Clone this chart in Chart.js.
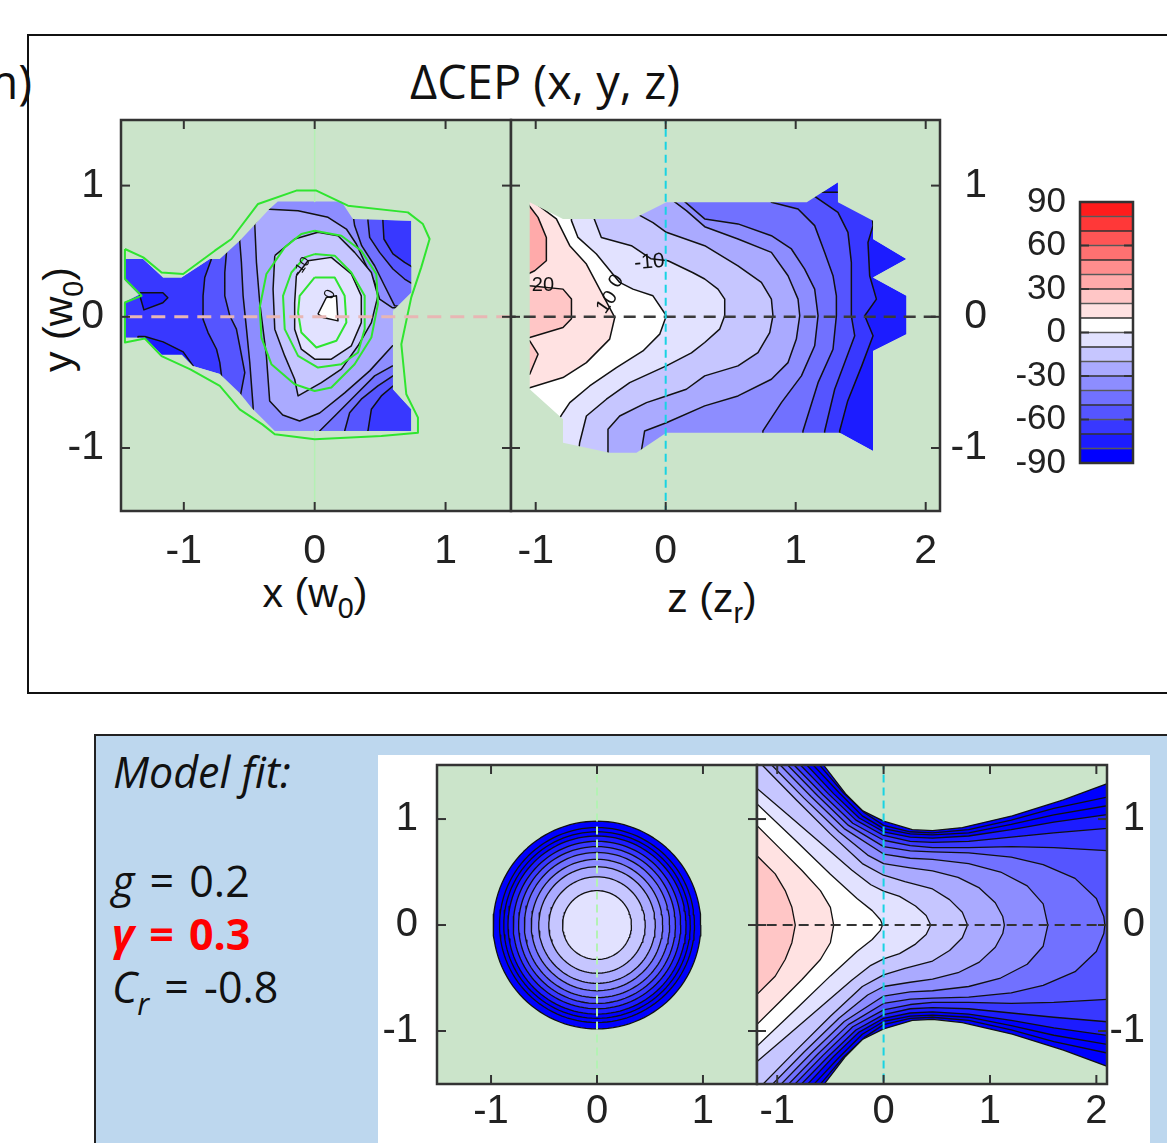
<!DOCTYPE html>
<html>
<head>
<meta charset="utf-8">
<script src="https://cdn.jsdelivr.net/npm/chart.js@4.4.1/dist/chart.umd.min.js"></script>
<style>
  html, body { margin: 0; padding: 0; background: #fff; }
  body { width: 1167px; height: 1143px; position: relative; overflow: hidden; font-family: 'Liberation Sans', Arial, sans-serif; }
  canvas { position: absolute; }
  .t { position: absolute; white-space: nowrap; line-height: normal; color: #111; }
  .ax { font: 41px 'Liberation Sans', Arial, sans-serif; }
  .eq { margin: 0 4px; }
  sub { font-size: 70%; vertical-align: -0.4em; line-height: 0; }
  #topbox { position: absolute; left: 27px; top: 34px; width: 1200px; height: 656px; border: 2px solid #111; }
  #botbox { position: absolute; left: 94px; top: 734px; width: 1200px; height: 500px; border: 2px solid #222; background: #bdd7ee; }
  #white { position: absolute; left: 378px; top: 755px; width: 772px; height: 400px; background: #fff; }
</style>
</head>
<body>
<div id="topbox"></div>
<div class="t" style="right:1135px; top:49px; font:47px 'Open Sans', sans-serif;">(m)</div>
<div class="t" style="left:345px; top:49px; width:400px; text-align:center; font:47px 'Open Sans', sans-serif;">ΔCEP (x, y, z)</div>
<div class="t ax" style="left:215px; top:570px; width:200px; text-align:center;">x (w<sub>0</sub>)</div>
<div class="t ax" style="left:612px; top:575px; width:200px; text-align:center;">z (z<sub>r</sub>)</div>
<div class="t ax" style="left:-42px; top:296px; width:200px; text-align:center; transform:rotate(-90deg);">y (w<sub>0</sub>)</div>

<div id="botbox"></div>
<div id="white"></div>
<div class="t" style="left:113px; top:742px; font:italic 43px 'Open Sans', sans-serif;">Model fit:</div>
<div class="t" style="left:112px; top:851px; font:43px 'Open Sans', sans-serif;"><i>g</i> <span class="eq">=</span> 0.2</div>
<div class="t" style="left:112px; top:904px; font:bold 43px 'Open Sans', sans-serif; color:#ff0000;"><i>γ</i> <span class="eq">=</span> 0.3</div>
<div class="t" style="left:112px; top:957px; font:43px 'Open Sans', sans-serif;"><i>C<sub>r</sub></i> <span class="eq">=</span> -0.8</div>

<canvas id="xy" width="475" height="475" style="left:40px; top:100px;"></canvas>
<canvas id="zy" width="481" height="475" style="left:506px; top:100px;"></canvas>
<canvas id="cb" width="140" height="300" style="left:1000px; top:180px;"></canvas>
<canvas id="fitxy" width="380" height="388" style="left:380px; top:755px;"></canvas>
<canvas id="fitzy" width="391" height="388" style="left:754px; top:755px;"></canvas>

<script>
// ---- colour scale / ticks ----
const bandEdges = [-90, -80, -70, -60, -50, -40, -30, -20, -10, 0, 10, 20, 30, 40, 50, 60, 70, 80, 90];
const bandColors = ['#0000ff', '#1c1cff', '#3838ff', '#5555ff', '#7171ff', '#8d8dff', '#aaaaff', '#c6c6ff', '#e2e2ff',
                    '#ffffff', '#ffe2e2', '#ffc6c6', '#ffaaaa', '#ff8d8d', '#ff7171', '#ff5555', '#ff3838', '#ff1c1c'];
const xyTicks = [-1, 0, 1];
const zTicks = [-1, 0, 1, 2];
const cbTicks = [-90, -60, -30, 0, 30, 60, 90];

// ---- measured dCEP(x, y): data mask and "value > level" regions, [x, y] in w0 ----
const tlMask = [[-1.45,0.44],[-1.311,0.44],[-1.158,0.30],[-1.018,0.30],[-0.802,0.44],[-0.725,0.44],[-0.573,0.58],[-0.344,0.824],[-0.282,0.878],[0.204,0.878],[0.292,0.746],[0.738,0.733],[0.738,0.185],[0.598,0.046],[0.598,-0.552],[0.738,-0.705],[0.738,-0.87],[-0.305,-0.87],[-0.481,-0.695],[-0.573,-0.58],[-0.725,-0.435],[-0.931,-0.374],[-1.015,-0.29],[-1.168,-0.29],[-1.298,-0.16],[-1.45,-0.16],[-1.45,0.115],[-1.344,0.168],[-1.45,0.275]];
const tlPatchA = [[-1.336,0.183],[-1.16,0.183],[-1.122,0.145],[-1.16,0.107],[-1.305,0.053],[-1.336,0.16]];
const tlPatchB = [[-1.298,-0.15],[-1.158,-0.191],[-1.005,-0.267],[-0.929,-0.374],[-0.95,-0.5],[-1.35,-0.5],[-1.35,-0.15]];
const tlM60 = [[-0.789,0.44],[-0.789,0.962],[0.521,0.962],[0.521,0.733],[0.529,0.593],[0.598,0.479],[0.687,0.415],[0.738,0.384],[0.878,0.351],[0.878,-0.489],[0.598,-0.527],[0.509,-0.603],[0.433,-0.705],[0.407,-0.87],[0.405,-0.985],[-0.687,-0.985],[-0.712,-0.45],[-0.725,-0.349],[-0.75,-0.247],[-0.815,-0.12],[-0.853,-0.018],[-0.853,0.16],[-0.84,0.30]];
const tlM50 = [[-0.674,0.491],[-0.674,0.962],[0.407,0.962],[0.407,0.733],[0.42,0.605],[0.496,0.491],[0.598,0.364],[0.687,0.288],[0.738,0.257],[0.878,0.237],[0.878,-0.412],[0.598,-0.45],[0.483,-0.527],[0.356,-0.628],[0.267,-0.731],[0.229,-0.87],[0.229,-0.985],[-0.603,-0.985],[-0.565,-0.588],[-0.534,-0.425],[-0.573,-0.221],[-0.598,-0.094],[-0.649,0.008],[-0.687,0.16],[-0.687,0.338]];
const tlM40 = [[-0.573,0.58],[-0.573,0.962],[0.267,0.962],[0.305,0.695],[0.359,0.542],[0.458,0.389],[0.534,0.237],[0.611,0.084],[0.878,0.046],[0.878,-0.336],[0.595,-0.374],[0.458,-0.45],[0.305,-0.603],[0.153,-0.756],[0.038,-0.87],[0.0,-0.985],[-0.458,-0.985],[-0.471,-0.679],[-0.496,-0.349],[-0.521,-0.094],[-0.547,0.16],[-0.56,0.415]];
const tlM30 = [[-0.458,0.708],[-0.382,0.822],[-0.127,0.809],[0.102,0.758],[0.242,0.669],[0.318,0.555],[0.382,0.415],[0.458,0.262],[0.496,0.135],[0.595,0.069],[0.878,0.069],[0.878,-0.183],[0.595,-0.221],[0.42,-0.412],[0.229,-0.58],[0.038,-0.733],[-0.115,-0.794],[-0.244,-0.748],[-0.344,-0.641],[-0.369,-0.298],[-0.42,0.109],[-0.445,0.415]];
const tlM20 = [[-0.305,0.466],[-0.153,0.593],[0.025,0.644],[0.178,0.618],[0.305,0.491],[0.433,0.338],[0.483,0.16],[0.433,-0.044],[0.331,-0.221],[0.204,-0.399],[0.051,-0.502],[-0.127,-0.603],[-0.153,-0.476],[-0.229,-0.298],[-0.305,-0.094],[-0.318,0.211]];
const tlM10 = [[-0.14,0.313],[-0.051,0.427],[0.127,0.453],[0.28,0.326],[0.356,0.16],[0.356,-0.044],[0.28,-0.221],[0.127,-0.323],[0.0,-0.323],[-0.102,-0.247],[-0.153,-0.094],[-0.153,0.109]];
const tlZero = [[0.025,0.021],[0.089,0.147],[0.166,0.16],[0.178,-0.031],[0.063,-0.005]];
const tlLevels = [-60, -50, -40, -30, -20, -10, 0];
// intensity contours (green)
const tlGreenOuter = [[-1.45,0.517],[-1.31,0.453],[-1.17,0.338],[-1.005,0.326],[-0.763,0.504],[-0.636,0.593],[-0.433,0.86],[-0.14,0.962],[0.013,0.962],[0.254,0.847],[0.712,0.796],[0.827,0.707],[0.878,0.593],[0.814,0.377],[0.738,0.148],[0.662,-0.209],[0.70,-0.59],[0.789,-0.768],[0.789,-0.883],[0.509,-0.908],[0.0,-0.934],[-0.305,-0.895],[-0.40,-0.82],[-0.573,-0.705],[-0.725,-0.527],[-0.95,-0.40],[-1.17,-0.30],[-1.298,-0.165],[-1.45,-0.196],[-1.45,0.109],[-1.323,0.16],[-1.45,0.288]];
const tlGreen1 = [[0,0.656],[0.204,0.618],[0.356,0.504],[0.471,0.326],[0.483,0.097],[0.433,-0.158],[0.305,-0.361],[0.127,-0.539],[0,-0.565],[-0.153,-0.514],[-0.331,-0.361],[-0.407,-0.158],[-0.42,0.071],[-0.369,0.326],[-0.229,0.529],[-0.102,0.631]];
const tlGreen2 = [[0,0.478],[0.153,0.466],[0.28,0.338],[0.382,0.16],[0.382,-0.094],[0.331,-0.272],[0.204,-0.361],[0.025,-0.387],[-0.127,-0.298],[-0.229,-0.094],[-0.242,0.16],[-0.178,0.338],[-0.076,0.453]];
const tlGreen3 = [[0,0.30],[0.153,0.30],[0.229,0.16],[0.242,-0.044],[0.166,-0.183],[0.013,-0.234],[-0.102,-0.12],[-0.127,0.033],[-0.115,0.16]];

// ---- measured dCEP(z, y): [z in zr, y in w0] ----
const trMask = [[-1.046,0.873],[-0.79,0.746],[-0.252,0.746],[0.005,0.873],[1.085,0.873],[1.325,1.025],[1.325,0.873],[1.595,0.733],[1.595,0.593],[1.852,0.44],[1.595,0.30],[1.852,0.16],[1.852,-0.132],[1.595,-0.26],[1.595,-1.023],[1.429,-0.934],[1.338,-0.883],[0.005,-0.883],[-0.225,-1.036],[-0.431,-1.036],[-0.79,-0.96],[-0.79,-0.781],[-1.046,-0.552]];
const trM70 = [[1.57,0.95],[1.595,0.695],[1.556,0.567],[1.569,0.313],[1.621,0.135],[1.531,0.008],[1.595,-0.145],[1.508,-0.374],[1.40,-0.641],[1.338,-0.87],[1.338,-1.1],[-1.3,-1.1],[-1.3,0.95]];
const trM60 = [[1.146,1.05],[1.146,0.918],[1.325,0.796],[1.402,0.644],[1.428,0.415],[1.428,0.008],[1.454,-0.145],[1.377,-0.349],[1.30,-0.552],[1.223,-0.87],[1.215,-1.1],[-1.3,-1.1],[-1.3,1.05]];
const trM50 = [[0.785,0.95],[0.813,0.873],[1.018,0.822],[1.146,0.695],[1.223,0.491],[1.287,0.313],[1.313,0.16],[1.313,0.008],[1.287,-0.247],[1.172,-0.502],[1.056,-0.87],[1.046,-1.1],[-1.3,-1.1],[-1.3,0.95]];
const trM40 = [[0.108,0.95],[0.146,0.878],[0.30,0.746],[0.556,0.708],[0.813,0.618],[0.967,0.517],[1.069,0.364],[1.146,0.211],[1.172,0.008],[1.146,-0.221],[1.044,-0.45],[0.89,-0.654],[0.748,-0.87],[0.738,-1.1],[-1.3,-1.1],[-1.3,0.95]];
const trM30 = [[-0.031,0.95],[0.159,0.809],[0.30,0.687],[0.556,0.593],[0.813,0.491],[0.941,0.313],[1.018,0.135],[1.031,0.008],[1.005,-0.17],[0.941,-0.349],[0.813,-0.476],[0.556,-0.603],[0.30,-0.679],[0.005,-0.807],[-0.162,-0.87],[-0.2,-1.1],[-1.3,-1.1],[-1.3,0.95]];
const trM20 = [[-0.30,0.95],[-0.238,0.794],[-0.098,0.718],[0.005,0.644],[0.30,0.542],[0.556,0.389],[0.736,0.262],[0.813,0.135],[0.825,0.008],[0.80,-0.12],[0.71,-0.273],[0.556,-0.374],[0.30,-0.45],[0.159,-0.552],[0.005,-0.603],[-0.148,-0.654],[-0.354,-0.756],[-0.444,-0.857],[-0.444,-1.1],[-1.3,-1.1],[-1.3,0.95]];
const trM10 = [[-0.559,0.95],[-0.559,0.771],[-0.495,0.605],[-0.264,0.542],[-0.115,0.443],[0.018,0.427],[0.21,0.336],[0.30,0.288],[0.402,0.211],[0.454,0.135],[0.454,0.008],[0.415,-0.094],[0.30,-0.196],[0.198,-0.275],[0.005,-0.374],[-0.277,-0.502],[-0.456,-0.628],[-0.61,-0.756],[-0.662,-0.96],[-0.677,-1.1],[-1.3,-1.1],[-1.3,0.95]];
const trZero = [[-0.725,0.95],[-0.725,0.733],[-0.675,0.605],[-0.533,0.479],[-0.354,0.262],[-0.252,0.211],[-0.098,0.16],[0.005,0.008],[-0.046,-0.132],[-0.175,-0.26],[-0.379,-0.387],[-0.585,-0.527],[-0.738,-0.654],[-0.79,-0.731],[-0.854,-0.832],[-1.3,-0.832],[-1.3,0.95]];
const trP10 = [[-0.995,0.95],[-0.995,0.86],[-0.841,0.746],[-0.738,0.542],[-0.61,0.402],[-0.508,0.211],[-0.392,-0.005],[-0.431,-0.17],[-0.61,-0.349],[-0.79,-0.463],[-1.046,-0.54],[-1.3,-0.55],[-1.3,0.95]];
const trP20a = [[-1.3,-0.16],[-1.046,-0.158],[-0.79,-0.082],[-0.725,-0.015],[-0.725,0.135],[-0.79,0.211],[-1.046,0.237],[-1.3,0.275]];
const trP20b = [[-1.3,-0.183],[-1.046,-0.183],[-0.982,-0.285],[-1.046,-0.438],[-1.3,-0.438]];
const trP30 = [[-1.3,0.95],[-1.06,0.95],[-1.06,0.86],[-0.982,0.758],[-0.918,0.605],[-0.918,0.427],[-1.008,0.351],[-1.06,0.326],[-1.3,0.326]];
const trLevels = [-70, -60, -50, -40, -30, -20, -10, 0, 10, 20, 20, 30];

// ---- model fit, x-y slice: radii of the level circles ----
const fitRadii = [0.98, 0.92, 0.88, 0.84, 0.79, 0.74, 0.685, 0.62, 0.55, 0.455, 0.325];
const fitRadiusLevels = [-110, -100, -90, -80, -70, -60, -50, -40, -30, -20, -10];

// ---- model fit, z-y slice: upper half of each level curve [z, y] ----
const mzEdge = [[-0.65,1.62],[-0.563,1.508],[-0.358,1.24],[-0.2,1.08],[0,0.98],[0.27,0.90],[0.46,0.89],[0.74,0.92],[1.21,1.03],[1.69,1.18],[2.09,1.33],[2.3,1.40]];
const mzM100 = [[-0.70,1.62],[-0.60,1.508],[-0.38,1.25],[-0.18,1.06],[0,0.94],[0.25,0.88],[0.46,0.87],[0.8,0.90],[1.2,0.99],[1.6,1.10],[2.3,1.25]];
const mzM90 = [[-0.76,1.62],[-0.66,1.508],[-0.42,1.25],[-0.2,1.03],[0,0.91],[0.25,0.86],[0.46,0.85],[0.8,0.87],[1.2,0.95],[1.6,1.04],[2.3,1.16]];
const mzM80 = [[-0.82,1.62],[-0.72,1.508],[-0.47,1.24],[-0.23,1.01],[0,0.88],[0.25,0.83],[0.46,0.82],[0.8,0.84],[1.2,0.90],[1.6,0.97],[2.3,1.07]];
const mzM70 = [[-0.88,1.62],[-0.78,1.508],[-0.52,1.24],[-0.26,0.99],[0,0.845],[0.25,0.79],[0.46,0.78],[0.8,0.79],[1.2,0.83],[1.6,0.87],[2.3,0.93]];
const mzM60 = [[-0.94,1.62],[-0.84,1.508],[-0.57,1.23],[-0.29,0.96],[0,0.80],[0.25,0.75],[0.46,0.73],[0.8,0.73],[1.2,0.74],[1.6,0.73],[2.3,0.69]];
const mzM50 = [[-1.0,1.62],[-0.90,1.508],[-0.62,1.22],[-0.33,0.94],[0,0.74],[0.25,0.70],[0.46,0.69],[0.8,0.68],[1.2,0.64],[1.5,0.57],[1.8,0.44],[2.0,0.25],[2.07,0.08],[2.08,0]];
const mzM40 = [[-1.08,1.62],[-0.97,1.508],[-0.68,1.21],[-0.37,0.91],[0,0.67],[0.25,0.63],[0.46,0.62],[0.8,0.58],[1.1,0.50],[1.35,0.37],[1.5,0.2],[1.544,0]];
const mzM30 = [[-1.16,1.62],[-1.05,1.508],[-0.75,1.2],[-0.42,0.88],[-0.15,0.66],[0,0.58],[0.25,0.54],[0.46,0.51],[0.7,0.45],[0.9,0.35],[1.05,0.21],[1.12,0.08],[1.135,0]];
const mzM20 = [[-1.25,1.62],[-1.14,1.508],[-0.82,1.18],[-0.5,0.86],[-0.2,0.58],[0,0.47],[0.2,0.41],[0.46,0.34],[0.62,0.24],[0.74,0.12],[0.789,0]];
const mzM10 = [[-1.3,1.38],[-1.192,1.29],[-0.9,1.04],[-0.6,0.78],[-0.3,0.52],[-0.12,0.38],[0,0.32],[0.15,0.27],[0.3,0.18],[0.40,0.09],[0.443,0]];
const mzZero = [[-1.3,1.25],[-1.192,1.145],[-0.83,0.80],[-0.50,0.48],[-0.25,0.25],[-0.107,0.136],[-0.03,0.05],[-0.01,0]];
const mzP10 = [[-1.3,1.05],[-1.192,0.94],[-0.987,0.735],[-0.767,0.514],[-0.594,0.325],[-0.50,0.167],[-0.469,0]];
const mzP20 = [[-1.3,0.77],[-1.192,0.656],[-1.019,0.483],[-0.925,0.325],[-0.862,0.167],[-0.83,0]];
const mzLevels = [-110, -100, -90, -80, -70, -60, -50, -40, -30, -20, -10, 0, 10, 20];

// ---------------------------------------------------------------
const GREEN = '#cbe4ca';
const bandColor = lv => bandColors[Math.max(0, Math.min(17, Math.floor((lv + 90) / 10)))];
const pt = a => a.map(([x, y]) => ({ x, y }));

function shape(pts, color, w) {
  return { data: pt(pts.concat([pts[0]])), fill: 'shape', backgroundColor: color,
    borderColor: w ? '#111' : 'rgba(0,0,0,0)', borderWidth: w || 0, pointRadius: 0, tension: 0 };
}
function trace(pts, color, w, dash, close) {
  return { data: pt(close ? pts.concat([pts[0]]) : pts), fill: false, borderColor: color,
    borderWidth: w, borderDash: dash || [], pointRadius: 0, tension: 0 };
}
// green area outside the data mask: big rectangle with the mask cut out
function cover(mask) {
  const outer = [[-4, -4], [4, -4], [4, 4], [-4, 4]];
  const area = p => p.reduce((s, [x, y], i) => { const [x2, y2] = p[(i + 1) % p.length]; return s + x * y2 - x2 * y; }, 0);
  const inner = mask.slice();
  if (Math.sign(area(inner)) === Math.sign(area(outer))) inner.reverse();
  const path = outer.concat([outer[0]], inner, [inner[0]], [outer[0]]);
  return { data: pt(path), fill: 'shape', backgroundColor: GREEN, borderColor: 'rgba(0,0,0,0)', borderWidth: 0, pointRadius: 0, tension: 0 };
}
function ring(r) {
  const out = [];
  for (let k = 0; k < 120; k++) { const a = 2 * Math.PI * k / 120; out.push([r * Math.cos(a), r * Math.sin(a)]); }
  return out;
}
function mirrored(upper) {
  const last = upper[upper.length - 1];
  const lower = upper.slice().reverse().map(([z, y]) => [z, -y]);
  const body = last[1] === 0 ? upper.concat(lower.slice(1)) : upper.concat(lower);
  return body.concat([[-1.6, -upper[0][1]], [-1.6, upper[0][1]]]);
}

const background = color => ({
  id: 'bg',
  beforeDatasetsDraw(chart) {
    const a = chart.chartArea, c = chart.ctx;
    c.save(); c.fillStyle = color; c.fillRect(a.left, a.top, a.right - a.left, a.bottom - a.top); c.restore();
  }
});
const frame = (noX) => ({
  id: 'frame',
  afterDraw(chart) {
    const a = chart.chartArea, c = chart.ctx, len = 9;
    const seg = (x1, y1, x2, y2) => { c.beginPath(); c.moveTo(x1, y1); c.lineTo(x2, y2); c.stroke(); };
    c.save();
    c.strokeStyle = '#333'; c.lineWidth = 2;
    if (!noX) chart.scales.x.ticks.forEach(t => {
      const p = chart.scales.x.getPixelForValue(t.value);
      seg(p, a.bottom, p, a.bottom - len); seg(p, a.top, p, a.top + len);
    });
    chart.scales.y.ticks.forEach(t => {
      const p = chart.scales.y.getPixelForValue(t.value);
      seg(a.left, p, a.left + len, p); seg(a.right, p, a.right - len, p);
    });
    c.lineWidth = 2.5;
    c.strokeRect(a.left, a.top, a.right - a.left, a.bottom - a.top);
    c.restore();
  }
});
const tags = items => ({
  id: 'tags',
  afterDatasetsDraw(chart) {
    const c = chart.ctx;
    items.forEach(t => {
      c.save();
      c.translate(chart.scales.x.getPixelForValue(t.x), chart.scales.y.getPixelForValue(t.y));
      c.rotate(t.rot * Math.PI / 180);
      c.font = t.size + 'px "Liberation Sans", Arial';
      c.textAlign = 'center'; c.textBaseline = 'middle'; c.fillStyle = '#111';
      c.fillText(t.text, 0, 0);
      c.restore();
    });
  }
});

// fixed axis box size, no extra edge padding so the plot area lands where intended
const fixBox = (w, h) => s => {
  if (w !== null) s.width = w;
  if (h !== null) s.height = h;
  s.paddingTop = 0; s.paddingBottom = 0; s.paddingLeft = 0; s.paddingRight = 0;
};

function axis(range, ticks, pos, fs, pad, fit, far) {
  return {
    type: 'linear', position: pos, min: range[0], max: range[1],
    grid: { display: false, drawTicks: false }, border: { display: false },
    afterBuildTicks: s => { s.ticks = ticks.map(v => ({ value: v })); },
    afterFit: fit,
    ticks: { font: { family: 'Liberation Sans', size: fs }, color: '#222', padding: pad, autoSkip: false,
             crossAlign: far ? 'far' : 'near', maxRotation: 0 }
  };
}

function plot(id, cfg) {
  return new Chart(document.getElementById(id), {
    type: 'line',
    data: { datasets: cfg.layers.slice().reverse() },
    options: {
      responsive: false, animation: false, devicePixelRatio: 1, events: [],
      layout: { padding: cfg.pad },
      elements: { point: { radius: 0 }, line: { tension: 0, borderJoinStyle: 'round' } },
      plugins: { legend: { display: false }, tooltip: { enabled: false } },
      scales: {
        x: axis(cfg.xr, cfg.xt, 'bottom', cfg.fs, cfg.xp, fixBox(null, cfg.xh), false),
        y: axis(cfg.yr, cfg.yt, cfg.ypos, cfg.fs, cfg.yp, fixBox(cfg.yw, null), cfg.ypos === 'right')
      }
    },
    plugins: [background(GREEN), frame(false), tags(cfg.tags || [])]
  });
}

const LW = 1.5;

// ---- top left: dCEP(x, y) ----
const tlShapes = [tlM60, tlM50, tlM40, tlM30, tlM20, tlM10, tlZero];
plot('xy', {
  pad: { top: 20, right: 4, left: 0, bottom: 0 }, xh: 64, yw: 81, fs: 41, xp: 16, yp: 17, ypos: 'left',
  xr: [-1.48, 1.5], yr: [-1.48, 1.5], xt: xyTicks, yt: xyTicks,
  layers: [
    shape(tlMask, bandColor(-70), 0),
    shape(tlPatchA, bandColor(-80), LW),
    shape(tlPatchB, bandColor(-80), LW),
    ...tlShapes.map((s, i) => shape(s, bandColor(tlLevels[i]), LW)),
    cover(tlMask),
    trace([[0, 1.6], [0, 0.878]], '#b4f0b4', 1.5),
    trace([[0, -0.87], [0, -1.6]], '#b4f0b4', 1.5),
    trace(tlGreenOuter, '#2fe52f', 2, [], true),
    trace(tlGreen1, '#2fe52f', 2, [], true),
    trace(tlGreen2, '#2fe52f', 2, [], true),
    trace(tlGreen3, '#2fe52f', 2, [], true),
    trace([[-1.6, 0], [1.6, 0]], '#e8b6b4', 3, [14, 9])
  ],
  tags: [
    { x: -0.10, y: 0.38, text: '-10', rot: -55, size: 14 },
    { x: 0.118, y: 0.17, text: '0', rot: -65, size: 15 }
  ]
});

// ---- top right: dCEP(z, y) ----
const trShapes = [trM70, trM60, trM50, trM40, trM30, trM20, trM10, trZero, trP10, trP20a, trP20b, trP30];
plot('zy', {
  pad: { top: 20, left: 5, right: 0, bottom: 0 }, xh: 64, yw: 47, fs: 41, xp: 16, yp: 4, ypos: 'right',
  xr: [-1.19, 2.11], yr: [-1.48, 1.5], xt: zTicks, yt: xyTicks,
  layers: [
    shape(trMask, bandColor(-80), 0),
    ...trShapes.map((s, i) => shape(s, bandColor(trLevels[i]), LW)),
    cover(trMask),
    trace([[-1.4, 0], [2.3, 0]], '#3a3a3a', 2.5, [12, 8]),
    trace([[0, -1.6], [0, 1.6]], '#19d3e3', 2, [8, 5])
  ],
  tags: [
    { x: -0.944, y: 0.237, text: '20', rot: 0, size: 20 },
    { x: -0.38, y: 0.27, text: '0', rot: -55, size: 20 },
    { x: -0.45, y: 0.11, text: '10', rot: -55, size: 20 },
    { x: -0.125, y: 0.415, text: '-10', rot: -5, size: 21 }
  ]
});

// ---- colour bar ----
new Chart(document.getElementById('cb'), {
  type: 'bar',
  data: {
    labels: ['ΔCEP'],
    datasets: bandColors.map((c, i) => ({
      data: [[bandEdges[i], bandEdges[i + 1]]], backgroundColor: c, borderColor: '#333', borderWidth: 1,
      borderSkipped: false, grouped: false, barPercentage: 1, categoryPercentage: 1
    }))
  },
  options: {
    responsive: false, animation: false, devicePixelRatio: 1, events: [],
    layout: { padding: { top: 22, right: 7, bottom: 17, left: 0 } },
    plugins: { legend: { display: false }, tooltip: { enabled: false } },
    scales: {
      x: { display: false },
      y: {
        min: -90, max: 90, grid: { display: false, drawTicks: false }, border: { display: false },
        afterBuildTicks: s => { s.ticks = cbTicks.map(v => ({ value: v })); },
        afterFit: fixBox(80, null),
        ticks: { font: { family: 'Liberation Sans', size: 35 }, color: '#222', padding: 14, autoSkip: false }
      }
    }
  },
  plugins: [frame(true)]
});

// ---- model fit: x-y ----
plot('fitxy', {
  pad: { top: 10, right: 3, left: 0, bottom: 0 }, xh: 59, yw: 57, fs: 40, xp: 4, yp: 19, ypos: 'left',
  xr: [-1.51, 1.51], yr: [-1.5, 1.51], xt: xyTicks, yt: xyTicks,
  layers: [
    ...fitRadii.map((r, i) => shape(ring(r), bandColor(fitRadiusLevels[i]), 1.3)),
    trace([[0, -1.6], [0, 1.6]], '#b4f2b4', 2, [8, 5])
  ]
});

// ---- model fit: z-y ----
const mzCurves = [mzEdge, mzM100, mzM90, mzM80, mzM70, mzM60, mzM50, mzM40, mzM30, mzM20, mzM10, mzZero, mzP10, mzP20];
plot('fitzy', {
  pad: { top: 10, left: 3, right: 0, bottom: 0 }, xh: 59, yw: 38, fs: 40, xp: 4, yp: 2, ypos: 'right',
  xr: [-1.19, 2.1], yr: [-1.5, 1.51], xt: zTicks, yt: xyTicks,
  layers: [
    ...mzCurves.map((c, i) => shape(mirrored(c), bandColor(mzLevels[i]), 1.3)),
    trace([[-1.4, 0], [2.3, 0]], '#333', 2, [10, 6]),
    trace([[0, -1.6], [0, 1.6]], '#19d3e3', 2, [8, 5])
  ]
});
</script>
</body>
</html>
